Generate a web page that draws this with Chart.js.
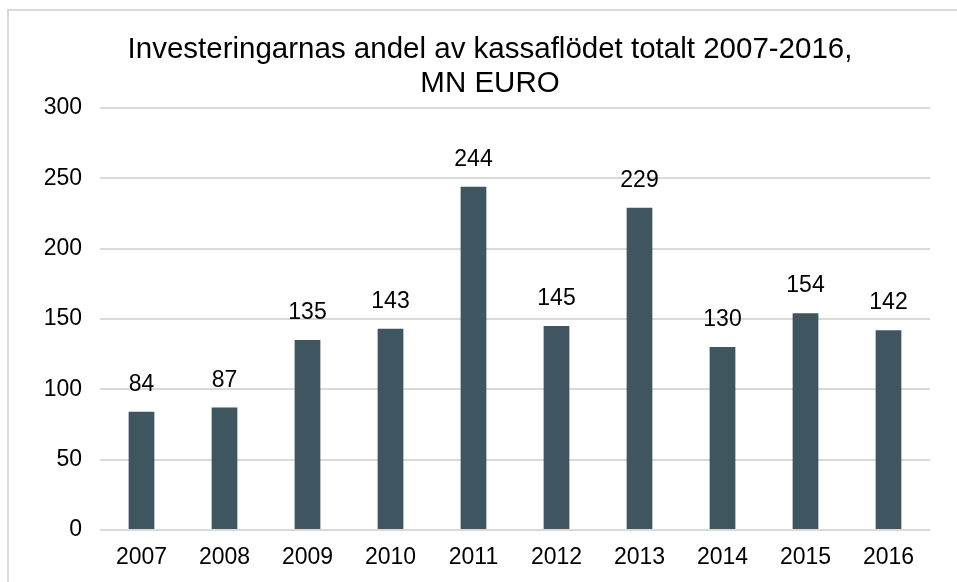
<!DOCTYPE html>
<html>
<head>
<meta charset="utf-8">
<script src="https://cdn.jsdelivr.net/npm/chart.js@4/dist/chart.umd.min.js"></script>
<style>
  html, body { margin: 0; padding: 0; background: #fff; overflow: hidden; width: 957px; height: 582px; }
  #frame { position: absolute; left: 7px; top: 9px; width: 1000px; height: 700px; border: 2px solid #d9d9d9; box-sizing: border-box; }
  #chart { position: absolute; left: 0; top: 0; }
</style>
</head>
<body>
<div id="frame"></div>
<canvas id="chart" width="957" height="582"></canvas>
<script>
const years = ["2007", "2008", "2009", "2010", "2011", "2012", "2013", "2014", "2015", "2016"];
const investments = [84, 87, 135, 143, 244, 145, 229, 130, 154, 142];
const yTicks = [0, 50, 100, 150, 200, 250, 300];
const titleLines = ["Investeringarnas andel av kassaflödet totalt 2007-2016,", "MN EURO"];

const fontFamily = "'Liberation Sans', Arial, sans-serif";

// values above each bar
const barValues = {
    id: "barValues",
    afterDatasetsDraw(chart) {
        const ctx = chart.ctx;
        const meta = chart.getDatasetMeta(0);
        ctx.save();
        ctx.font = "23px " + fontFamily;
        ctx.fillStyle = "#000";
        ctx.textAlign = "center";
        ctx.textBaseline = "alphabetic";
        meta.data.forEach((bar, i) => {
            ctx.fillText(String(investments[i]), bar.x, bar.y - 21);
        });
        ctx.restore();
    }
};

// the title in the original sits a bit right of the canvas centre
const shiftTitle = {
    id: "shiftTitle",
    afterLayout(chart) {
        if (chart.titleBlock) {
            chart.titleBlock.left += 20;
            chart.titleBlock.right += 20;
        }
    }
};

new Chart(document.getElementById("chart").getContext("2d"), {
    type: "bar",
    data: {
        labels: years,
        datasets: [{
            data: investments,
            backgroundColor: "#3f5560",
            categoryPercentage: 1,
            barPercentage: 0.31,
        }],
    },
    options: {
        responsive: false,
        animation: false,
        layout: { padding: { left: 10, right: 27, top: 0, bottom: 0 } },
        scales: {
            y: {
                min: 0,
                max: 300,
                afterBuildTicks: scale => { scale.ticks = yTicks.map(v => ({ value: v })); },
                afterFit: scale => { scale.width = 90; },
                border: { display: false },
                grid: { color: "#d9d9d9", lineWidth: 2, drawTicks: false },
                ticks: { color: "#000", padding: 18, font: { family: fontFamily, size: 23 } },
            },
            x: {
                afterFit: scale => { scale.height = 52; },
                border: { display: false },
                grid: { display: false, drawTicks: false },
                ticks: { color: "#000", padding: 14, font: { family: fontFamily, size: 23 } },
            },
        },
        plugins: {
            legend: { display: false },
            tooltip: { enabled: false },
            title: {
                display: true,
                text: titleLines,
                color: "#000",
                font: { family: fontFamily, size: 29.5, weight: "normal", lineHeight: 1.15 },
                padding: { top: 33, bottom: 7 },
            },
        },
    },
    plugins: [barValues, shiftTitle],
});
</script>
</body>
</html>
